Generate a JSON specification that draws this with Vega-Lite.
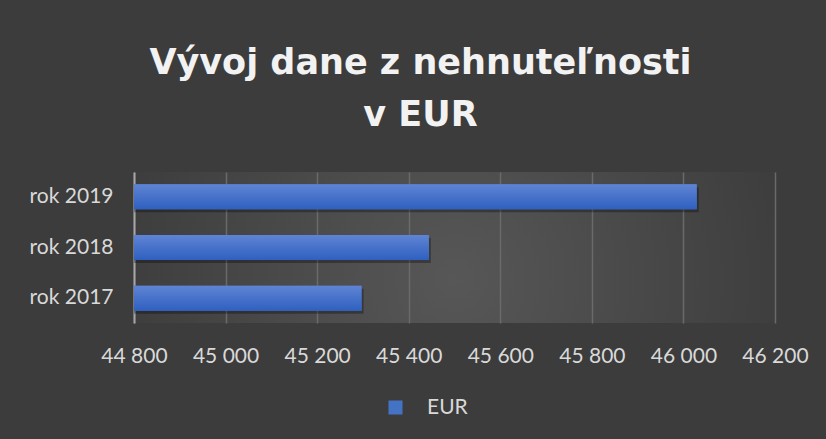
{
  "$schema": "https://vega.github.io/schema/vega-lite/v6.json",
  "width": 641,
  "height": 151,
  "autosize": {"type": "none"},
  "padding": {"left": 134, "top": 172, "right": 51, "bottom": 116},
  "background": "#3c3c3c",
  "title": {
    "text": ["Vývoj dane z nehnuteľnosti", "v EUR"],
    "font": "DejaVu Sans",
    "fontSize": 35,
    "fontWeight": "bold",
    "color": "#f2f2f2",
    "anchor": "middle",
    "frame": "group",
    "dx": -34,
    "lineHeight": 52,
    "offset": 39
  },
  "config": {
    "font": "Lato",
    "view": {
      "stroke": null,
      "fill": {
        "gradient": "radial",
        "x1": 0.5, "y1": 0.55, "x2": 0.5, "y2": 0.55, "r1": 0, "r2": 0.55,
        "stops": [
          {"offset": 0, "color": "#575757"},
          {"offset": 1, "color": "#3c3c3c"}
        ]
      }
    }
  },
  "data": {
    "values": [
      {"rok": "rok 2017", "EUR": 45297, "serie": "EUR"},
      {"rok": "rok 2018", "EUR": 45444, "serie": "EUR"},
      {"rok": "rok 2019", "EUR": 46029, "serie": "EUR"}
    ]
  },
  "encoding": {
    "y": {
      "field": "rok",
      "type": "nominal",
      "sort": ["rok 2019", "rok 2018", "rok 2017"],
      "scale": {"paddingInner": 0.507, "paddingOuter": 0.241},
      "axis": {
        "title": null,
        "ticks": false,
        "domain": true,
        "domainColor": "#a6a6a6",
        "domainWidth": 2,
        "grid": false,
        "labelFontSize": 21,
        "labelColor": "#d9d9d9",
        "labelPadding": 21
      }
    },
    "x": {
      "field": "EUR",
      "type": "quantitative",
      "scale": {"domain": [44800, 46200], "zero": false, "nice": false},
      "axis": {
        "title": null,
        "values": [44800, 45000, 45200, 45400, 45600, 45800, 46000, 46200],
        "labelExpr": "replace(format(datum.value, ','), ',', ' ')",
        "domain": false,
        "ticks": false,
        "grid": true,
        "gridColor": "#6a6a6a",
        "gridWidth": 1.5,
        "labelFontSize": 21,
        "labelColor": "#d9d9d9",
        "labelPadding": 22,
        "labelFlush": false
      }
    },
    "x2": {"datum": 44800}
  },
  "layer": [
    {
      "mark": {"type": "bar", "color": "#000000", "opacity": 0.3, "xOffset": 2, "yOffset": 3},
      "encoding": {}
    },
    {
      "mark": {"type": "bar"},
      "encoding": {
        "color": {
          "field": "serie",
          "type": "nominal",
          "scale": {"range": ["#4472c4"]},
          "legend": {
            "title": null,
            "orient": "none",
            "legendX": 251,
            "legendY": 225,
            "padding": 0,
            "symbolType": "square",
            "symbolSize": 196,
            "symbolStrokeWidth": 0,
            "symbolOpacity": 1,
            "labelOffset": 21,
            "labelFontSize": 21,
            "labelColor": "#d9d9d9"
          }
        }
      }
    },
    {
      "mark": {
        "type": "bar",
        "fill": {
          "gradient": "linear",
          "x1": 0, "y1": 0, "x2": 0, "y2": 1,
          "stops": [
            {"offset": 0, "color": "#5f84d4"},
            {"offset": 1, "color": "#2f60c0"}
          ]
        }
      },
      "encoding": {}
    }
  ]
}
